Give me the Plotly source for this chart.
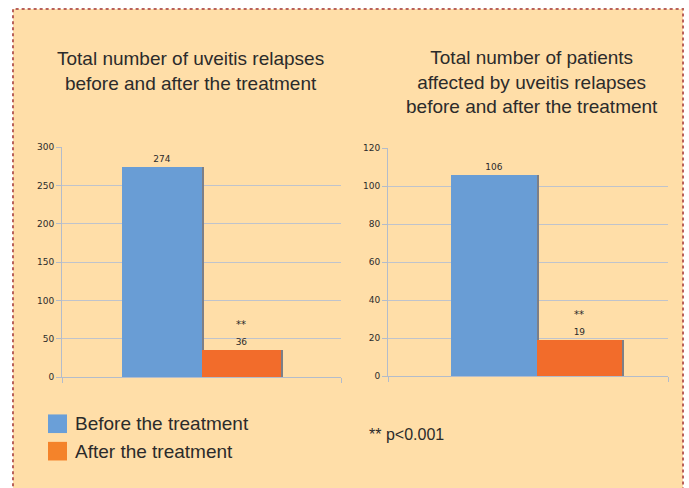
import plotly.graph_objects as go

# Data
groups = ["Before the treatment", "After the treatment"]
relapses = [274, 36]
patients = [106, 19]
significance = "**"

blue = "#699dd5"
orange = "#f26c2b"
legend_blue = "#6a9fd8"
legend_orange = "#f4832a"
shadow = "#7d7f86"
bg = "#ffdea8"
grid = "#bfc3cc"
axis_col = "#b3bccb"
txt = "#2b2b2b"

fig = go.Figure()

# bar centres in axis units; each bar one unit wide
centres = [-0.5, 0.5]
shift = 0.026


def add_panel(values, xa, ya):
    for i, (name, v) in enumerate(zip(groups, values)):
        col = blue if i == 0 else orange
        fig.add_trace(go.Bar(
            x=[centres[i] + shift], y=[v], width=1.0,
            marker=dict(color=shadow, line=dict(width=0)),
            xaxis=xa, yaxis=ya, showlegend=False, hoverinfo="skip"))
        fig.add_trace(go.Bar(
            x=[centres[i]], y=[v], width=1.0, name=name,
            marker=dict(color=col, line=dict(width=0)),
            text=[str(v)], textposition="outside",
            textfont=dict(family="DejaVu Sans", size=9, color=txt),
            cliponaxis=False,
            xaxis=xa, yaxis=ya, showlegend=False))
    # significance mark over the second bar
    fig.add_annotation(x=centres[1], y=values[1], xref=xa, yref=ya.replace("axis", ""),
                       text=significance, showarrow=False, yanchor="bottom",
                       yshift=18, font=dict(family="DejaVu Sans", size=10, color=txt))


add_panel(relapses, "x", "y")
add_panel(patients, "x2", "y2")

yaxis_common = dict(
    showgrid=True, gridcolor=grid, gridwidth=1,
    showline=True, linecolor=axis_col, linewidth=1,
    ticks="outside", ticklen=5, tickcolor=axis_col,
    tickfont=dict(family="DejaVu Sans", size=9, color=txt),
    zeroline=False, fixedrange=True,
)
xaxis_common = dict(
    showgrid=False, zeroline=False, showline=True, linecolor=axis_col,
    ticks="outside", ticklen=5, tickcolor=axis_col, showticklabels=False,
    fixedrange=True,
)

fig.update_layout(
    width=689, height=488,
    margin=dict(l=0, r=0, t=0, b=0),
    paper_bgcolor="white", plot_bgcolor=bg,
    barmode="overlay", bargap=0,
    showlegend=False,
    xaxis=dict(domain=[62 / 689, 341 / 689], range=[-1.755, 1.755],
               tickvals=[-1.755, 1.755], **xaxis_common),
    yaxis=dict(domain=[1 - 380 / 488, 1 - 145 / 488], range=[0, 300],
               tickvals=[0, 50, 100, 150, 200, 250, 300], anchor="x", **yaxis_common),
    xaxis2=dict(domain=[388 / 689, 668 / 689], range=[-1.737, 1.538],
                tickvals=[-1.737, 1.538], anchor="y2", **xaxis_common),
    yaxis2=dict(domain=[1 - 379 / 488, 1 - 146 / 488], range=[0, 120],
                tickvals=[0, 20, 40, 60, 80, 100, 120], anchor="x2", **yaxis_common),
)

# peach panel with dotted frame, open at the bottom edge
fig.add_shape(type="rect", xref="paper", yref="paper", layer="below",
              x0=13 / 689, x1=683 / 689, y0=-0.02, y1=1 - 4 / 488,
              line=dict(color="#b9615a", width=2, dash="dot"), fillcolor=bg)

title_font = dict(family="Liberation Sans, Arial, sans-serif", size=19, color=txt)
fig.add_annotation(x=190 / 689, y=1 - 67 / 488, xref="paper", yref="paper",
                   text="Total number of uveitis relapses<br>before and after the treatment",
                   showarrow=False, font=title_font, align="center",
                   xanchor="center", yanchor="middle")
fig.add_annotation(x=532 / 689, y=1 - 79 / 488, xref="paper", yref="paper",
                   text="Total number of patients<br>affected by uveitis relapses<br>before and after the treatment",
                   showarrow=False, font=title_font, align="center",
                   xanchor="center", yanchor="middle")

# legend swatches and labels
legend_font = dict(family="Liberation Sans, Arial, sans-serif", size=19, color=txt)
for (name, col, y0) in [(groups[0], legend_blue, 418), (groups[1], legend_orange, 446)]:
    fig.add_shape(type="rect", xref="paper", yref="paper",
                  x0=48 / 689, x1=67 / 689, y0=1 - (y0 + 19) / 488, y1=1 - y0 / 488,
                  fillcolor=col, line=dict(width=0))
    fig.add_annotation(x=73 / 689, y=1 - (y0 + 9.5) / 488, xref="paper", yref="paper",
                       text=name, showarrow=False, font=legend_font,
                       xanchor="left", yanchor="middle")

fig.add_annotation(x=367 / 689, y=1 - 438 / 488, xref="paper", yref="paper",
                   text="** p<0.001", showarrow=False,
                   font=dict(family="Liberation Sans, Arial, sans-serif", size=16, color=txt),
                   xanchor="left", yanchor="middle")

fig.write_html("out.html")
